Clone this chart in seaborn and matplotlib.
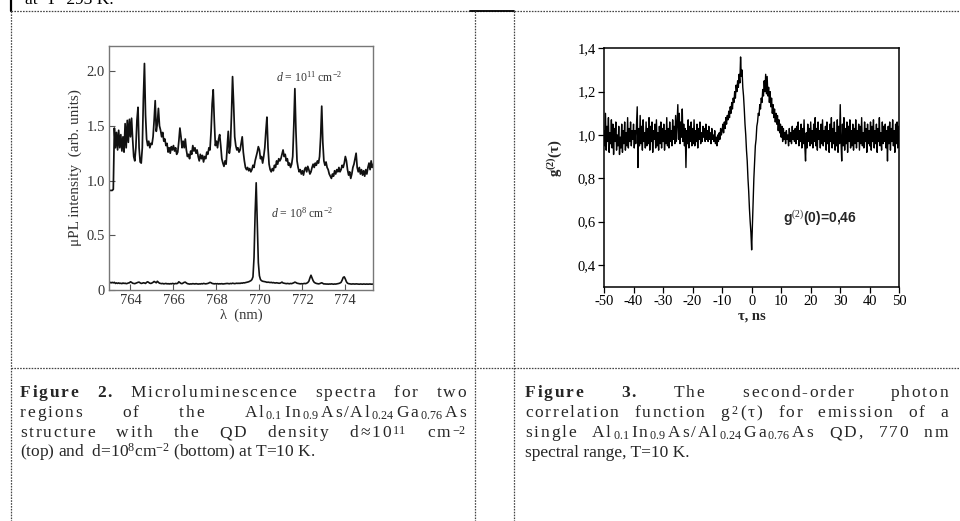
import numpy as np
import pandas as pd
import matplotlib
matplotlib.use("Agg")
import matplotlib.pyplot as plt
from matplotlib.lines import Line2D
from matplotlib.ticker import MultipleLocator, FixedLocator
import seaborn as sns

# ---------------- data ----------------
# Figure 2: micro-PL spectra, wavelength grid 763.00 .. 775.30 nm (0.05 nm steps)
lam_start, lam_step = 763.0, 0.05
pl_dense = [
    0.91, 0.91, 0.91, 0.91, 0.92, 1.48, 1.30, 1.44, 1.28, 1.46, 1.30, 1.42, 1.27, 1.40, 1.26, 1.52, 1.30, 1.55, 1.35, 1.56,
    1.40, 1.57, 1.38, 1.22, 1.18, 1.30, 1.55, 1.67, 1.30, 1.17, 1.16, 1.30, 1.75, 2.07, 1.60, 1.38, 1.32, 1.36, 1.30, 1.34,
    1.33, 1.40, 1.55, 1.73, 1.45, 1.52, 1.66, 1.50, 1.46, 1.40, 1.44, 1.36, 1.38, 1.32, 1.34, 1.26, 1.30, 1.25, 1.31, 1.28,
    1.32, 1.27, 1.30, 1.24, 1.26, 1.36, 1.48, 1.40, 1.30, 1.36, 1.30, 1.38, 1.28, 1.22, 1.24, 1.20, 1.27, 1.24, 1.32, 1.27,
    1.30, 1.25, 1.28, 1.22, 1.18, 1.24, 1.20, 1.23, 1.17, 1.22, 1.20, 1.26, 1.24, 1.30, 1.28, 1.45, 1.70, 1.83, 1.55, 1.32,
    1.36, 1.30, 1.38, 1.42, 1.32, 1.20, 1.16, 1.13, 1.18, 1.15, 1.30, 1.45, 1.25, 1.32, 1.60, 1.95, 1.70, 1.40, 1.32, 1.28,
    1.30, 1.26, 1.28, 1.34, 1.40, 1.26, 1.18, 1.12, 1.10, 1.12, 1.09, 1.11, 1.08, 1.10, 1.14, 1.12, 1.18, 1.22, 1.26, 1.31,
    1.28, 1.20, 1.22, 1.16, 1.22, 1.30, 1.45, 1.58, 1.30, 1.15, 1.10, 1.08, 1.11, 1.09, 1.14, 1.12, 1.18, 1.15, 1.20, 1.18,
    1.20, 1.24, 1.28, 1.22, 1.24, 1.18, 1.20, 1.14, 1.16, 1.12, 1.15, 1.22, 1.50, 1.84, 1.45, 1.18, 1.12, 1.08, 1.10, 1.06,
    1.09, 1.05, 1.10, 1.12, 1.08, 1.13, 1.10, 1.06, 1.08, 1.12, 1.15, 1.12, 1.16, 1.14, 1.18, 1.16, 1.22, 1.40, 1.68, 1.35,
    1.18, 1.14, 1.17, 1.12, 1.10, 1.06, 1.04, 1.02, 1.06, 1.04, 1.09, 1.06, 1.10, 1.08, 1.12, 1.08, 1.10, 1.14, 1.12, 1.16,
    1.22, 1.18, 1.10, 1.05, 1.08, 1.02, 1.06, 1.12, 1.15, 1.20, 1.25, 1.12, 1.08, 1.12, 1.06, 1.10, 1.05, 1.09, 1.04, 1.10,
    1.06, 1.12, 1.16, 1.10, 1.18, 1.12, 1.15,
]
pl_sparse = [
    0.060, 0.070, 0.065, 0.070, 0.065, 0.070, 0.060, 0.065, 0.060, 0.065, 0.060, 0.062, 0.058, 0.064, 0.060, 0.062, 0.058, 0.060, 0.064, 0.066,
    0.075, 0.070, 0.062, 0.060, 0.058, 0.062, 0.066, 0.070, 0.072, 0.065, 0.060, 0.062, 0.066, 0.064, 0.060, 0.070, 0.075, 0.068, 0.062, 0.060,
    0.064, 0.070, 0.078, 0.072, 0.066, 0.080, 0.070, 0.062, 0.060, 0.058, 0.060, 0.056, 0.058, 0.060, 0.056, 0.058, 0.055, 0.058, 0.056, 0.060,
    0.058, 0.056, 0.060, 0.058, 0.062, 0.075, 0.068, 0.060, 0.058, 0.064, 0.070, 0.072, 0.064, 0.058, 0.056, 0.054, 0.056, 0.055, 0.058, 0.056,
    0.055, 0.058, 0.056, 0.054, 0.056, 0.055, 0.058, 0.056, 0.060, 0.058, 0.056, 0.058, 0.060, 0.064, 0.070, 0.066, 0.060, 0.058, 0.056, 0.058,
    0.056, 0.058, 0.055, 0.057, 0.056, 0.058, 0.055, 0.056, 0.058, 0.057, 0.060, 0.058, 0.057, 0.060, 0.058, 0.062, 0.060, 0.058, 0.060, 0.062,
    0.060, 0.062, 0.060, 0.064, 0.062, 0.066, 0.065, 0.068, 0.070, 0.072, 0.075, 0.080, 0.085, 0.095, 0.120, 0.300, 0.700, 0.980, 0.600, 0.250,
    0.130, 0.095, 0.085, 0.080, 0.078, 0.075, 0.074, 0.070, 0.072, 0.070, 0.068, 0.070, 0.066, 0.068, 0.065, 0.064, 0.066, 0.064, 0.062, 0.062,
    0.066, 0.072, 0.064, 0.062, 0.060, 0.058, 0.060, 0.058, 0.057, 0.060, 0.058, 0.062, 0.066, 0.072, 0.068, 0.062, 0.060, 0.058, 0.056, 0.058,
    0.056, 0.058, 0.060, 0.058, 0.062, 0.068, 0.080, 0.110, 0.135, 0.110, 0.085, 0.070, 0.064, 0.060, 0.058, 0.056, 0.058, 0.062, 0.066, 0.060,
    0.055, 0.056, 0.054, 0.055, 0.053, 0.055, 0.054, 0.056, 0.055, 0.053, 0.055, 0.054, 0.056, 0.058, 0.060, 0.064, 0.070, 0.090, 0.115, 0.120,
    0.100, 0.075, 0.062, 0.058, 0.056, 0.055, 0.054, 0.056, 0.055, 0.054, 0.056, 0.055, 0.054, 0.053, 0.055, 0.054, 0.053, 0.055, 0.054, 0.053,
    0.055, 0.053, 0.054, 0.055, 0.053, 0.054, 0.053,
]
pl_xticks = [764, 766, 768, 770, 772, 774]
pl_yticks = [0, 0.5, 1.0, 1.5, 2.0]
pl_ylabels = ["0", "0.5", "1.0", "1.5", "2.0"]

# Figure 3: g2(tau), tau grid -50 .. 50 ns (0.25 ns steps)
tau_start, tau_step = -50.0, 0.25
g2 = [
    1.02, 0.95, 1.10, 0.93, 1.04, 0.97, 1.08, 0.92, 1.01, 0.96, 1.07, 0.94, 1.05, 0.91, 1.03, 0.97, 1.06, 0.93, 1.00, 0.95,
    1.04, 0.91, 0.99, 0.94, 1.05, 0.92, 1.02, 0.96, 1.06, 0.93, 1.01, 0.95, 1.08, 0.94, 1.03, 0.97, 1.06, 0.95, 1.02, 0.98,
    1.05, 0.94, 1.02, 0.96, 1.04, 1.13, 0.85, 1.03, 0.95, 1.09, 0.96, 1.04, 0.93, 1.07, 0.97, 1.01, 0.94, 1.06, 0.95, 1.03,
    0.96, 1.08, 0.93, 1.04, 0.97, 1.06, 0.92, 1.02, 0.98, 1.05, 0.94, 1.07, 0.95, 1.01, 0.93, 1.04, 0.96, 1.06, 0.94, 1.03,
    0.97, 1.05, 0.93, 1.02, 0.96, 1.08, 0.95, 1.03, 0.94, 1.06, 0.97, 1.02, 0.95, 1.07, 0.98, 1.04, 0.96, 1.09, 0.97, 1.05,
    1.14, 0.98, 1.10, 0.96, 1.06, 0.99, 1.12, 0.97, 1.05, 0.95, 1.03, 0.85, 1.02, 0.96, 1.07, 0.94, 1.04, 0.97, 1.06, 0.95,
    1.03, 0.96, 1.07, 0.95, 1.02, 0.97, 1.05, 0.94, 1.03, 0.98, 1.06, 0.96, 1.01, 0.97, 1.04, 0.99, 1.03, 0.97, 1.05, 0.98,
    1.02, 0.97, 1.04, 0.98, 1.01, 0.96, 1.03, 0.98, 1.00, 0.97, 1.02, 0.96, 0.99, 0.95, 1.00, 0.97, 1.01, 0.98, 1.03, 1.00,
    1.02, 1.05, 1.01, 1.06, 1.03, 1.08, 1.05, 1.09, 1.07, 1.11, 1.08, 1.13, 1.10, 1.15, 1.12, 1.17, 1.15, 1.20, 1.17, 1.23,
    1.20, 1.25, 1.22, 1.28, 1.24, 1.36, 1.27, 1.30, 1.22, 1.18, 1.12, 1.05, 1.00, 0.93, 0.88, 0.80, 0.74, 0.66, 0.60, 0.55,
    0.47, 0.58, 0.70, 0.80, 0.88, 0.95, 0.98, 1.04, 1.06, 1.10, 1.09, 1.14, 1.12, 1.17, 1.15, 1.21, 1.18, 1.25, 1.20, 1.28,
    1.19, 1.27, 1.18, 1.22, 1.15, 1.20, 1.13, 1.17, 1.10, 1.14, 1.08, 1.12, 1.06, 1.10, 1.05, 1.09, 1.02, 1.07, 1.01, 1.05,
    0.99, 1.04, 0.97, 1.03, 0.98, 1.01, 0.96, 1.02, 0.98, 1.00, 0.95, 1.03, 0.97, 1.01, 0.96, 1.04, 0.98, 1.02, 0.97, 1.03,
    0.96, 1.04, 0.98, 1.06, 0.95, 1.02, 0.97, 1.05, 0.94, 1.03, 0.96, 1.07, 0.95, 0.88, 1.01, 0.94, 1.05, 0.97, 1.03, 0.95,
    1.06, 0.96, 1.02, 0.94, 1.05, 0.97, 1.08, 0.95, 1.03, 0.93, 1.06, 0.98, 1.02, 0.94, 1.05, 0.96, 1.07, 0.95, 1.02, 0.97,
    1.04, 0.93, 1.06, 0.96, 1.02, 0.92, 1.05, 0.97, 1.08, 0.94, 1.03, 0.96, 1.06, 0.93, 1.01, 0.95, 1.07, 0.92, 1.04, 0.96,
    1.14, 0.97, 0.88, 1.05, 0.95, 1.08, 0.93, 1.03, 0.96, 1.06, 0.92, 1.04, 0.97, 1.07, 0.94, 1.02, 0.95, 1.05, 0.93, 1.03,
    0.96, 1.07, 0.94, 1.02, 0.97, 1.05, 0.93, 1.04, 0.96, 1.08, 0.95, 1.01, 0.94, 1.06, 0.97, 1.03, 0.92, 1.05, 0.96, 1.02,
    0.95, 1.06, 0.93, 1.04, 0.97, 1.07, 0.94, 1.02, 0.96, 1.05, 0.92, 1.03, 0.97, 1.08, 0.95, 1.01, 0.93, 1.06, 0.96, 1.04,
    0.97, 1.05, 0.94, 1.02, 0.88, 1.04, 0.96, 1.06, 0.93, 1.03, 0.97, 1.07, 0.95, 1.02, 0.92, 1.05, 0.96, 1.06, 0.94, 1.04,
    0.98,
]
g2_xticks = [-50, -40, -30, -20, -10, 0, 10, 20, 30, 40, 50]
g2_yticks = [0.4, 0.6, 0.8, 1.0, 1.2, 1.4]
g2_ylabels = ["0,4", "0,6", "0,8", "1,0", "1,2", "1,4"]

lam = np.round(lam_start + lam_step * np.arange(len(pl_dense)), 3)
tau = np.round(tau_start + tau_step * np.arange(len(g2)), 3)
df_pl = pd.DataFrame({"lam": lam, "dense": pl_dense, "sparse": pl_sparse})
df_g2 = pd.DataFrame({"tau": tau, "g2": g2})

# ---------------- style ----------------
sns.set_theme(style="white")
plt.rcParams['font.family'] = ['Liberation Serif', 'DejaVu Serif']
plt.rcParams['mathtext.fontset'] = 'custom'
plt.rcParams['mathtext.rm'] = 'Liberation Serif'
plt.rcParams['mathtext.it'] = 'Liberation Serif:italic'
plt.rcParams['mathtext.bf'] = 'Liberation Serif:bold'
plt.rcParams['mathtext.fallback'] = 'stix'
plt.rcParams['axes.unicode_minus'] = False

W, H = 960, 521
fig = plt.figure(figsize=(W / 100, H / 100), dpi=100)
fig.patch.set_facecolor('white')

def fx(x):
    return x / W

def fy(y):
    return 1 - y / H

dot = dict(color='#444444', lw=0.9, ls=(0, (1.3, 1.0)))

def seg(x0, y0, x1, y1, **kw):
    fig.add_artist(Line2D([fx(x0), fx(x1)], [fy(y0), fy(y1)], transform=fig.transFigure, **kw))

# table grid
seg(11, 0, 11, 11, color='black', lw=1.6)
seg(11, 11, 960, 11, **dot)
seg(470, 11, 514, 11, color='black', lw=1.3)
seg(11, 11, 11, 521, **dot)
seg(475, 11, 475, 521, **dot)
seg(514, 11, 514, 521, **dot)
seg(11, 368, 960, 368, **dot)

# cut-off text from the previous row of the page
fig.text(fx(25), fy(4), "at  T=293 K.", fontsize=12.5, va='baseline', ha='left', color='black')

# ---------------- Figure 2 ----------------
grey = '#555555'
ax1 = fig.add_axes([fx(109), fy(290), (373.3 - 109) / W, (290 - 46) / H])
sns.lineplot(data=df_pl, x="lam", y="dense", ax=ax1, color='#111111', lw=1.25, estimator=None, sort=False)
sns.lineplot(data=df_pl, x="lam", y="sparse", ax=ax1, color='#111111', lw=1.2, estimator=None, sort=False)
ax1.set_xlim(763.0, 775.3)
ax1.set_ylim(0, 2.23)
ax1.xaxis.set_major_locator(FixedLocator(pl_xticks))
ax1.xaxis.set_minor_locator(MultipleLocator(1))
ax1.yaxis.set_major_locator(FixedLocator(pl_yticks))
ax1.set_yticklabels(pl_ylabels)
ax1.yaxis.set_minor_locator(MultipleLocator(0.25))
ax1.tick_params(which='both', direction='in', colors=grey, labelcolor='#333333', labelsize=10.5, pad=3)
ax1.tick_params(which='major', length=4, width=0.8)
ax1.tick_params(which='minor', length=2.5, width=0.7)
ax1.tick_params(axis='x', bottom=True)
ax1.tick_params(axis='y', left=True)
for s in ax1.spines.values():
    s.set_color('#777777')
    s.set_linewidth(1.0)
ax1.set_xlabel("λ  (nm)", fontsize=10.5, color='#333333', labelpad=1)
ax1.set_ylabel("μPL intensity  (arb. units)", fontsize=11, color='#333333', labelpad=3)
ax1.text(770.75, 1.945, r"$d$ = 10$^{11}$ cm$^{-2}$", fontsize=8.5, color='#333333', va='center', ha='left')
ax1.text(770.55, 0.70, r"$d$ = 10$^{8}$ cm$^{-2}$", fontsize=8.5, color='#333333', va='center', ha='left')

# ---------------- Figure 3 ----------------
ax2 = fig.add_axes([fx(604), fy(286.7), (899.3 - 604) / W, (286.7 - 48.3) / H])
sns.lineplot(data=df_g2, x="tau", y="g2", ax=ax2, color='black', lw=1.0, estimator=None, sort=False)
ax2.set_xlim(-50, 50)
ax2.set_ylim(0.3, 1.4)
ax2.xaxis.set_major_locator(FixedLocator(g2_xticks))
ax2.xaxis.set_minor_locator(MultipleLocator(5))
ax2.yaxis.set_major_locator(FixedLocator(g2_yticks))
ax2.set_yticklabels(g2_ylabels)
ax2.yaxis.set_minor_locator(MultipleLocator(0.1))
ax2.tick_params(which='both', direction='out', colors='black', labelsize=10.5, pad=2)
ax2.tick_params(which='major', length=4, width=0.9)
ax2.tick_params(which='minor', length=2.5, width=0.8)
ax2.tick_params(axis='x', bottom=True)
ax2.tick_params(axis='y', left=True)
for s in ax2.spines.values():
    s.set_color('black')
    s.set_linewidth(1.1)
ax2.set_xlabel("τ, ns", fontsize=10.5, fontweight='bold', labelpad=1)
ax2.set_ylabel(r"g$^{\mathbf{(2)}}$(τ)", fontsize=10.5, fontweight='bold')
ax2.yaxis.set_label_coords(-0.135, 0.54)
ax2.text(10.5, 0.615, r"g$^{(2)}$(0)=0,46", fontsize=10, fontweight='bold',
         family=['Liberation Sans', 'DejaVu Sans'], va='center', ha='left')

# ---------------- captions ----------------
cap_size = 12.5
track = 1.8
min_gap = 5.0
renderer = fig.canvas.get_renderer()

def justified(words, x0, x1, y):
    """words: list of (units, weight); units are the glyph groups of the word (spread like the scan)."""
    groups = []
    for units, wt in words:
        items = [fig.text(fx(x0), fy(y), u, fontsize=cap_size, fontweight=wt, va='baseline', ha='left')
                 for u in units]
        ws = [t.get_window_extent(renderer).width for t in items]
        groups.append((items, ws))
    nglyph_gaps = sum(len(ws) - 1 for _, ws in groups)
    base = sum(sum(ws) for _, ws in groups)
    tr = track
    if (x1 - x0) - base - tr * nglyph_gaps < min_gap * (len(words) - 1):
        tr = max(0.0, ((x1 - x0) - base - min_gap * (len(words) - 1)) / nglyph_gaps)
    wsum = [sum(ws) + tr * (len(ws) - 1) for _, ws in groups]
    gap = ((x1 - x0) - sum(wsum)) / (len(words) - 1)
    x = x0
    for (items, ws), ww in zip(groups, wsum):
        xx = x
        for t, w in zip(items, ws):
            t.set_x(fx(xx))
            xx += w + tr
        x += ww + gap

def W_(s, wt='normal'):
    return (list(s), wt)

alloy = (["A", "l", "$_{0.1}$", "I", "n", "$_{0.9}$", "A", "s", "/", "A", "l", "$_{0.24}$",
          "G", "a", "$_{0.76}$", "A", "s"], 'normal')
cap_y = [397, 417, 437, 457]

justified([W_("Figure", 'bold'), W_("2.", 'bold'), W_("Microluminescence"), W_("spectra"), W_("for"), W_("two")],
          20, 466, cap_y[0])
justified([W_("regions"), W_("of"), W_("the"), alloy], 20, 466, cap_y[1])
justified([W_("structure"), W_("with"), W_("the"), W_("QD"), W_("density"),
           (["d", "≈", "1", "0", "$^{11}$"], 'normal'), (["c", "m", "$^{-2}$"], 'normal')],
          20, 466, cap_y[2])
fig.text(fx(20), fy(cap_y[3]), r"(top) and  d=10$^{8}$cm$^{-2}$ (bottom) at T=10 K.", fontsize=cap_size,
         va='baseline', ha='left')

justified([W_("Figure", 'bold'), W_("3.", 'bold'), W_("The"), W_("second-order"), W_("photon")],
          525, 948, cap_y[0])
justified([W_("correlation"), W_("function"), (["g", "$^{2}$", "(", "τ", ")"], 'normal'), W_("for"),
           W_("emission"), W_("of"), W_("a")], 525, 948, cap_y[1])
justified([W_("single"), alloy, W_("QD,"), W_("770"), W_("nm")], 525, 948, cap_y[2])
fig.text(fx(525), fy(cap_y[3]), "spectral range, T=10 K.", fontsize=cap_size, va='baseline', ha='left')

fig.savefig("out.png", dpi=100)
